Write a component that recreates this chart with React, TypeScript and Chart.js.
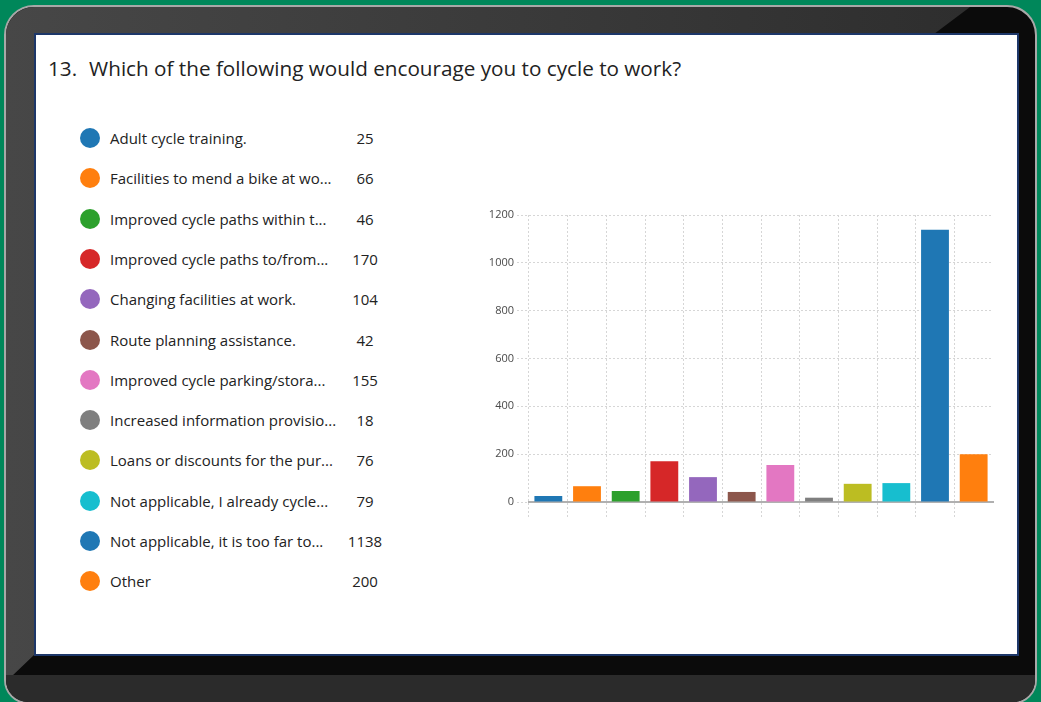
import React, { useEffect, useRef } from "react";
import { Chart, registerables } from "chart.js";

Chart.register(...registerables);

const questionNumber = "13.";
const questionText = "Which of the following would encourage you to cycle to work?";

const categories = [
  "Adult cycle training.",
  "Facilities to mend a bike at wo...",
  "Improved cycle paths within t...",
  "Improved cycle paths to/from...",
  "Changing facilities at work.",
  "Route planning assistance.",
  "Improved cycle parking/stora...",
  "Increased information provisio...",
  "Loans or discounts for the pur...",
  "Not applicable, I already cycle...",
  "Not applicable, it is too far to...",
  "Other",
];

const responses = [25, 66, 46, 170, 104, 42, 155, 18, 76, 79, 1138, 200];

const barColors = [
  "#1f77b4",
  "#ff7f0e",
  "#2ca02c",
  "#d62728",
  "#9467bd",
  "#8c564b",
  "#e377c2",
  "#7f7f7f",
  "#bcbd22",
  "#17becf",
  "#1f77b4",
  "#ff7f0e",
];

const yMin = 0;
const yMax = 1200;
const yStep = 200;

const FONT = "'Open Sans', 'Noto Sans', sans-serif";
const GRID = "#d6d6d6";

function BarChart() {
  const ref = useRef<HTMLCanvasElement | null>(null);
  useEffect(() => {
    if (!ref.current) return;
    Chart.defaults.font.family = FONT;
    const chart = new Chart(ref.current, {
      type: "bar",
      data: {
        labels: categories,
        datasets: [
          {
            data: responses,
            backgroundColor: barColors,
            borderWidth: 0,
            categoryPercentage: 0.8,
            barPercentage: 0.9,
          },
        ],
      },
      options: {
        animation: false,
        responsive: false,
        maintainAspectRatio: false,
        layout: { padding: { top: 15, right: 7, bottom: 12, left: 0 } },
        plugins: { legend: { display: false }, tooltip: { enabled: false } },
        scales: {
          x: {
            offset: true,
            grid: {
              offset: true,
              color: (ctx: any) => (ctx.type === "tick" ? GRID : "rgba(0,0,0,0)"),
              tickColor: (ctx: any) => (ctx.type === "tick" ? GRID : "rgba(0,0,0,0)"),
              tickLength: 16,
              tickBorderDash: [2, 2],
            },
            border: { display: true, color: "#b0b0b0", width: 2, dash: [2, 2] },
            ticks: { display: false },
            afterFit: (s: any) => {
              s.height = 16;
            },
          },
          y: {
            min: yMin,
            max: yMax,
            ticks: {
              stepSize: yStep,
              color: "#4a4a4a",
              padding: 3,
              font: { family: FONT, size: 11 },
              callback: (v: any) => String(v),
            },
            grid: {
              color: GRID,
              tickColor: GRID,
              tickLength: 12,
              tickBorderDash: [2, 2],
            },
            border: { display: false, dash: [2, 2] },
            afterFit: (s: any) => {
              s.width = 59;
            },
          },
        },
      },
    });
    return () => chart.destroy();
  }, []);
  return (
    <canvas
      ref={ref}
      width={530}
      height={330}
      style={{ position: "absolute", left: 470, top: 200, width: 530, height: 330 }}
    />
  );
}

export default function App() {
  useEffect(() => {
    document.body.style.margin = "0";
  }, []);
  const bx = 6;
  const by = 7;
  const p = (x: number, y: number) => `${x - bx}px ${y - by}px`;
  return (
    <div
      style={{
        position: "fixed",
        left: 0,
        top: 0,
        width: 1041,
        height: 702,
        background: "#00875a",
        overflow: "hidden",
        fontFamily: FONT,
      }}
    >
      {/* laptop body */}
      <div
        style={{
          position: "absolute",
          left: 4,
          top: 5,
          width: 1033,
          height: 699,
          boxSizing: "border-box",
          border: "2px solid #a8a8a8",
          borderRadius: "30px 30px 24px 24px",
          background: "#0b0b0b",
          overflow: "hidden",
        }}
      >
        <div
          style={{
            position: "absolute",
            left: 0,
            top: 0,
            width: 1033,
            height: 699,
            background: "linear-gradient(to right, #474747, #3a3a3a 50%, #2c2c2c)",
            clipPath: `polygon(${p(6, 7)}, ${p(970, 7)}, ${p(934, 34)}, ${p(34, 34)}, ${p(34, 655)}, ${p(12, 676)}, ${p(6, 676)})`,
          }}
        />
        <div
          style={{
            position: "absolute",
            left: 0,
            top: 675 - by,
            width: 1033,
            height: 40,
            background: "#2b2b2b",
          }}
        />
      </div>
      {/* screen panel */}
      <div
        style={{
          position: "absolute",
          left: 34,
          top: 33,
          width: 985,
          height: 623,
          boxSizing: "border-box",
          border: "2px solid #1d3769",
          background: "#ffffff",
        }}
      />
      {/* title */}
      <div
        style={{
          position: "absolute",
          left: 48,
          top: 54,
          fontSize: 20.7,
          lineHeight: "28px",
          color: "#222",
          whiteSpace: "nowrap",
        }}
      >
        <span>{questionNumber}</span>
        <span style={{ marginLeft: 12 }}>{questionText}</span>
      </div>
      {/* legend */}
      {categories.map((c, i) => (
        <div
          key={i}
          style={{
            position: "absolute",
            left: 80,
            top: 138 + i * 40.3 - 12,
            height: 24,
            width: 320,
            display: "flex",
            alignItems: "center",
            fontSize: 15,
            color: "#222",
          }}
        >
          <div
            style={{
              width: 20,
              height: 20,
              borderRadius: "50%",
              background: barColors[i],
              flex: "0 0 auto",
            }}
          />
          <div style={{ marginLeft: 10, whiteSpace: "nowrap" }}>{c}</div>
          <div
            style={{
              position: "absolute",
              left: 255,
              width: 60,
              textAlign: "center",
            }}
          >
            {responses[i]}
          </div>
        </div>
      ))}
      <BarChart />
    </div>
  );
}
